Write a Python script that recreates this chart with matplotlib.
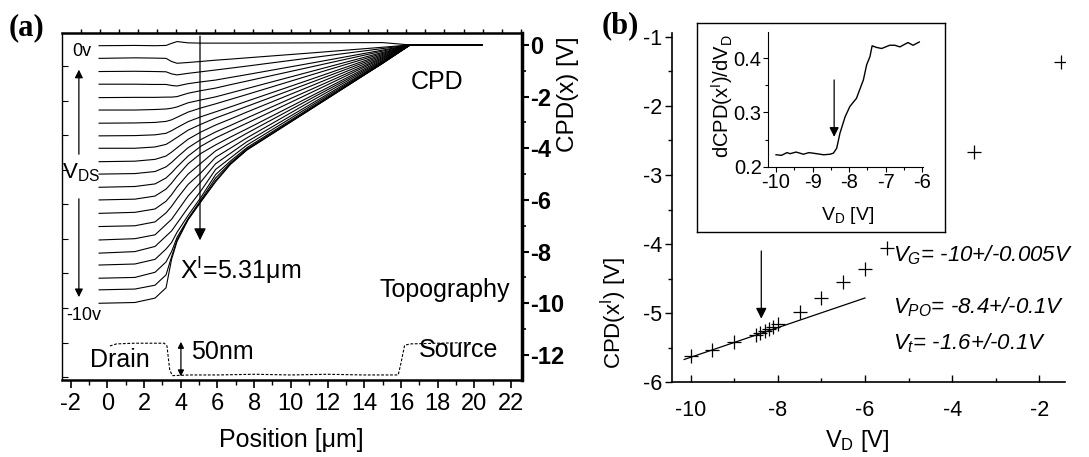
import numpy as np
import matplotlib.pyplot as plt
from matplotlib.ticker import MultipleLocator, FixedLocator

plt.rcParams['font.family'] = ['Liberation Sans', 'DejaVu Sans']
plt.rcParams['mathtext.fontset'] = 'custom'
plt.rcParams['mathtext.rm'] = 'Liberation Sans'
plt.rcParams['mathtext.it'] = 'Liberation Sans:italic'
plt.rcParams['mathtext.bf'] = 'Liberation Sans:bold'
plt.rcParams['axes.unicode_minus'] = False

# -------------------------------------------------
# Data (a): CPD(x) curves for V_DS = 0 ... -10 V
# -------------------------------------------------
knot_x = [-0.45, 1.5, 2.6, 3.2, 3.5, 3.8, 4.4, 5.1, 5.9, 6.7, 7.6, 11.3, 15.0, 16.5, 20.4]
cpd_curves = [
    [-0.03, -0.02, -0.03, -0.02, 0.06, 0.13, 0.08, 0.07, 0.07, 0.07, 0.07, 0.08, 0.09, 0.0, 0.0],
    [-0.52, -0.50, -0.51, -0.52, -0.64, -0.71, -0.68, -0.64, -0.59, -0.55, -0.50, -0.30, -0.09, 0.0, 0.0],
    [-1.03, -1.02, -1.03, -1.04, -1.12, -1.16, -1.10, -1.04, -0.97, -0.90, -0.82, -0.48, -0.14, 0.0, 0.0],
    [-1.52, -1.52, -1.53, -1.53, -1.57, -1.59, -1.50, -1.43, -1.36, -1.26, -1.15, -0.68, -0.20, 0.0, 0.0],
    [-2.04, -2.03, -2.03, -2.02, -2.02, -2.00, -1.87, -1.77, -1.67, -1.54, -1.40, -0.82, -0.24, 0.0, 0.0],
    [-2.52, -2.52, -2.50, -2.48, -2.45, -2.40, -2.24, -2.13, -2.01, -1.86, -1.69, -0.99, -0.29, 0.0, 0.0],
    [-3.03, -3.02, -3.00, -2.96, -2.90, -2.80, -2.60, -2.44, -2.28, -2.11, -1.92, -1.12, -0.33, 0.0, 0.0],
    [-3.52, -3.51, -3.48, -3.42, -3.32, -3.20, -2.97, -2.78, -2.59, -2.40, -2.18, -1.28, -0.37, 0.0, 0.0],
    [-4.00, -4.00, -3.95, -3.85, -3.72, -3.58, -3.30, -3.07, -2.83, -2.62, -2.38, -1.40, -0.41, 0.0, 0.0],
    [-4.52, -4.50, -4.43, -4.30, -4.15, -3.98, -3.65, -3.37, -3.10, -2.87, -2.60, -1.53, -0.45, 0.0, 0.0],
    [-5.00, -4.98, -4.90, -4.72, -4.55, -4.35, -3.98, -3.66, -3.37, -3.12, -2.83, -1.66, -0.49, 0.0, 0.0],
    [-5.51, -5.48, -5.38, -5.15, -4.95, -4.72, -4.30, -3.92, -3.60, -3.33, -3.03, -1.78, -0.52, 0.0, 0.0],
    [-6.00, -5.97, -5.85, -5.58, -5.35, -5.08, -4.60, -4.20, -3.87, -3.57, -3.25, -1.91, -0.56, 0.0, 0.0],
    [-6.52, -6.48, -6.35, -6.05, -5.80, -5.50, -5.00, -4.58, -4.10, -3.78, -3.42, -2.00, -0.60, 0.0, 0.0],
    [-7.03, -7.00, -6.85, -6.50, -6.25, -5.95, -5.40, -4.95, -4.35, -4.00, -3.60, -2.10, -0.63, 0.0, 0.0],
    [-7.55, -7.50, -7.35, -6.95, -6.75, -6.45, -5.85, -5.30, -4.60, -4.20, -3.75, -2.20, -0.66, 0.0, 0.0],
    [-8.06, -8.00, -7.80, -7.40, -7.20, -6.90, -6.30, -5.65, -4.82, -4.38, -3.88, -2.27, -0.68, 0.0, 0.0],
    [-8.52, -8.48, -8.30, -7.90, -7.65, -7.25, -6.60, -5.90, -5.02, -4.50, -3.98, -2.33, -0.70, 0.0, 0.0],
    [-9.03, -9.00, -8.80, -8.40, -8.00, -7.45, -6.72, -6.00, -5.15, -4.57, -4.03, -2.37, -0.71, 0.0, 0.0],
    [-9.48, -9.45, -9.30, -8.90, -8.20, -7.55, -6.75, -6.05, -5.25, -4.61, -4.06, -2.39, -0.71, 0.0, 0.0],
    [-10.0, -9.97, -9.80, -9.40, -8.30, -7.60, -6.77, -6.07, -5.30, -4.63, -4.07, -2.39, -0.71, 0.0, 0.0],
]

# topography profile [nm]
topo_x = [0.14, 0.5, 1.5, 2.5, 3.1, 3.25, 3.4, 3.55, 4.5, 6.0, 8.0, 10.0, 12.0, 14.0, 15.85,
          16.0, 16.2, 16.5, 18.0, 19.9]
topo_y = [45, 48, 49, 49, 49, 45, 10, 2, 3, 3, 4, 3, 4, 3, 3, 20, 46, 48, 49, 50]

# -------------------------------------------------
# Data (b): CPD(x') vs V_D
# -------------------------------------------------
vd_pts = [-10.0, -9.5, -9.0, -8.5, -8.4, -8.3, -8.2, -8.1, -8.0, -7.5, -7.0, -6.5, -6.0, -5.5,
          -3.5, -1.5]
cpd_pts = [-5.62, -5.53, -5.42, -5.32, -5.29, -5.26, -5.23, -5.20, -5.16, -4.99, -4.78, -4.55,
           -4.36, -4.05, -2.67, -1.37]
fit_x = [-10.15, -6.0]
fit_y = [-5.67, -4.78]

# inset: dCPD/dVD
ins_x = [-10.0, -9.85, -9.7, -9.62, -9.45, -9.25, -9.1, -8.89, -8.7, -8.52, -8.43, -8.34,
         -8.25, -8.11, -7.98, -7.8, -7.61, -7.52, -7.43, -7.37, -7.25, -7.11, -6.89, -6.75,
         -6.61, -6.5, -6.39, -6.25, -6.08]
ins_y = [0.222, 0.221, 0.226, 0.224, 0.227, 0.223, 0.226, 0.224, 0.222, 0.223, 0.225, 0.234,
         0.262, 0.292, 0.311, 0.326, 0.360, 0.388, 0.403, 0.423, 0.420, 0.418, 0.424, 0.424,
         0.421, 0.425, 0.429, 0.424, 0.430]

W, H = 1089, 457
fig = plt.figure(figsize=(W / 100, H / 100), dpi=100)


def fx(px):
    return px / W


def fy(py):
    return 1 - py / H


def rect(l, t, r, b):
    return [fx(l), fy(b), fx(r) - fx(l), fy(t) - fy(b)]


# -------------------------------------------------
# Panel (a)
# -------------------------------------------------
ax_t = fig.add_axes(rect(62, 33.3, 521.7, 380))
ax_t.set_xlim(-2.47, 22.58)
ax_t.set_ylim(-4.3, 498)
ax_t.plot(topo_x, topo_y, color='k', lw=0.8, ls=(0, (2.5, 1.5)))
ax_t.yaxis.set_major_locator(MultipleLocator(50))
ax_t.tick_params(axis='y', direction='in', length=4, labelleft=False, width=0.8)
ax_t.xaxis.set_major_locator(MultipleLocator(2))
ax_t.xaxis.set_minor_locator(MultipleLocator(1))
ax_t.tick_params(axis='x', which='major', direction='out', length=6, width=1.2,
                 labelsize=17, pad=3)
ax_t.tick_params(axis='x', which='minor', direction='out', length=3.5, width=1.0)
ax_t.tick_params(top=False, which='both')
ax_t.spines['right'].set_visible(False)
ax_t.spines['top'].set_visible(False)
ax_t.spines['left'].set_linewidth(1.0)
ax_t.spines['bottom'].set_linewidth(1.8)

ax_top = ax_t.twiny()
ax_top.set_xlim(-0.98, 23.04)
ax_top.xaxis.set_major_locator(MultipleLocator(1))
ax_top.tick_params(axis='x', direction='out', length=3, width=1.0, labeltop=False)
for s in ['left', 'right', 'bottom']:
    ax_top.spines[s].set_visible(False)
ax_top.spines['top'].set_linewidth(1.8)

ax_c = ax_t.twinx()
ax_c.set_ylim(-12.97, 0.45)
for row in cpd_curves:
    ax_c.plot(knot_x, row, color='k', lw=0.8)
ax_c.yaxis.set_major_locator(MultipleLocator(2))
ax_c.yaxis.set_minor_locator(MultipleLocator(1))
ax_c.tick_params(axis='y', which='major', direction='out', length=5, width=1.5, pad=1,
                 labelsize=17)
ax_c.tick_params(axis='y', which='minor', direction='out', length=3, width=1.2)
for lab in ax_c.get_yticklabels():
    lab.set_fontweight('bold')
for s in ['left', 'top', 'bottom']:
    ax_c.spines[s].set_visible(False)
ax_c.spines['right'].set_linewidth(2.5)

# annotations (a)
ax_c.annotate('', xy=(5.05, -7.67), xytext=(5.05, 0.45),
              arrowprops=dict(arrowstyle='-|>', color='k', lw=0.9, mutation_scale=18))
ax_c.annotate('', xy=(-1.55, -0.85), xytext=(-1.55, -4.34),
              arrowprops=dict(arrowstyle='-|>', color='k', lw=0.9, mutation_scale=12))
ax_c.annotate('', xy=(-1.55, -9.87), xytext=(-1.55, -5.85),
              arrowprops=dict(arrowstyle='-|>', color='k', lw=0.9, mutation_scale=12))
ax_t.annotate('', xy=(4.01, 51), xytext=(4.01, 1),
              arrowprops=dict(arrowstyle='<|-|>', color='k', lw=0.9, mutation_scale=9,
                              shrinkA=0, shrinkB=0))

fig.text(fx(72), fy(52), '0v', fontsize=13, ha='left', va='center')
fig.text(fx(66), fy(316), '-10v', fontsize=13, ha='left', va='center')
fig.text(fx(62), fy(173), r'V$_\mathrm{DS}$', fontsize=16, ha='left', va='center')
fig.text(fx(180), fy(270), r'X$^\mathrm{I}$=5.31μm', fontsize=18, ha='left', va='center')
fig.text(fx(437), fy(82), 'CPD', fontsize=18, ha='center', va='center')
fig.text(fx(510), fy(290), 'Topography', fontsize=18, ha='right', va='center')
fig.text(fx(498), fy(350), 'Source', fontsize=18, ha='right', va='center')
fig.text(fx(90), fy(360), 'Drain', fontsize=18, ha='left', va='center')
fig.text(fx(191), fy(352), '50nm', fontsize=18, ha='left', va='center')
fig.text(fx(291), fy(440), 'Position [μm]', fontsize=18, ha='center', va='center')
fig.text(fx(568), fy(94), 'CPD(x) [V]', fontsize=17.5, rotation=90, ha='center', va='center')
fig.text(fx(27), fy(28), '(a)', fontsize=22, fontweight='bold', family='Liberation Serif',
         ha='center', va='center')

# -------------------------------------------------
# Panel (b)
# -------------------------------------------------
ax_b = fig.add_axes(rect(671.7, 33, 1065, 382.3))
ax_b.set_xlim(-10.436, -1.41)
ax_b.set_ylim(-6, -0.946)
ax_b.plot(vd_pts, cpd_pts, ls='none', marker='+', ms=10, mew=0.9, color='k')
ax_b.plot(fit_x, fit_y, color='k', lw=0.9)
ax_b.annotate('', xy=(-8.38, -5.08), xytext=(-8.38, -4.10),
              arrowprops=dict(arrowstyle='-|>', color='k', lw=0.9, mutation_scale=16,
                              shrinkA=0, shrinkB=0))
ax_b.spines['top'].set_visible(False)
ax_b.spines['right'].set_visible(False)
ax_b.spines['left'].set_linewidth(1.2)
ax_b.spines['bottom'].set_linewidth(1.2)
ax_b.yaxis.set_major_locator(MultipleLocator(1))
ax_b.yaxis.set_minor_locator(MultipleLocator(0.5))
ax_b.xaxis.set_major_locator(MultipleLocator(2))
ax_b.xaxis.set_minor_locator(MultipleLocator(1))
ax_b.tick_params(axis='y', which='major', direction='out', length=5, width=1.0,
                 labelsize=15.5, pad=2)
ax_b.tick_params(axis='y', which='minor', direction='out', length=3, width=1.0)
ax_b.tick_params(axis='x', which='major', direction='in', length=5, width=1.0,
                 labelsize=15.5, pad=13)
ax_b.tick_params(axis='x', which='minor', direction='in', length=3, width=1.0)

fig.text(fx(614), fy(313), r'CPD(x$^\mathrm{I}$) [V]', fontsize=16, rotation=90,
         ha='center', va='center')
fig.text(fx(857), fy(441), r'V$_\mathrm{D}$ [V]', fontsize=17, ha='center', va='center')
fig.text(fx(893), fy(255), r'$V_G$= -10+/-0.005V', fontsize=16, style='italic',
         ha='left', va='center')
fig.text(fx(893), fy(307), r'$V_{PO}$= -8.4+/-0.1V', fontsize=16, style='italic',
         ha='left', va='center')
fig.text(fx(893), fy(343), r'$V_t$= -1.6+/-0.1V', fontsize=16, style='italic',
         ha='left', va='center')
fig.text(fx(620), fy(26), '(b)', fontsize=22, fontweight='bold', family='Liberation Serif',
         ha='center', va='center')

# inset frame
ax_f = fig.add_axes(rect(697, 23, 945, 232))
ax_f.set_xticks([])
ax_f.set_yticks([])
for s in ax_f.spines.values():
    s.set_linewidth(1.0)

ax_in = fig.add_axes(rect(768, 31.7, 923.3, 166.7))
ax_in.set_xlim(-10.22, -5.97)
ax_in.set_ylim(0.2, 0.449)
ax_in.plot(ins_x, ins_y, color='k', lw=1.0)
ax_in.annotate('', xy=(-8.41, 0.255), xytext=(-8.41, 0.36),
               arrowprops=dict(arrowstyle='-|>', color='k', lw=0.9, mutation_scale=14,
                               shrinkA=0, shrinkB=0))
ax_in.spines['top'].set_visible(False)
ax_in.spines['right'].set_visible(False)
ax_in.xaxis.set_major_locator(FixedLocator([-10, -9, -8, -7, -6]))
ax_in.xaxis.set_minor_locator(MultipleLocator(0.5))
ax_in.yaxis.set_major_locator(FixedLocator([0.2, 0.3, 0.4]))
ax_in.yaxis.set_minor_locator(MultipleLocator(0.05))
ax_in.set_yticklabels(['0.2', '0.3', '0.4'])
ax_in.tick_params(which='major', direction='out', length=3.5, width=0.8, labelsize=14.5, pad=1)
ax_in.tick_params(which='minor', direction='out', length=2, width=0.8)

fig.text(fx(722), fy(96), r'dCPD(x$^\mathrm{I}$)/dV$_\mathrm{D}$', fontsize=14.5, rotation=90,
         ha='center', va='center')
fig.text(fx(848), fy(216), r'V$_\mathrm{D}$ [V]', fontsize=14, ha='center', va='center')

fig.savefig('out.png', dpi=100)
